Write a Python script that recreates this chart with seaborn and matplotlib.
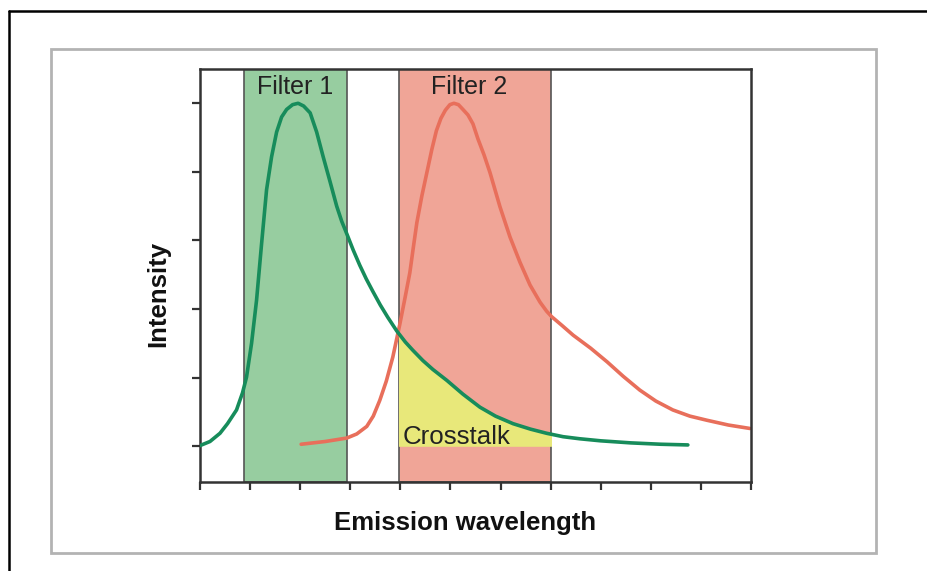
import seaborn as sns
import matplotlib.pyplot as plt
import matplotlib.patches as mpatches
from matplotlib.lines import Line2D
import pandas as pd

# Emission spectra (arbitrary units)
green_x = [0.0, 0.2, 0.4, 0.55, 0.73, 0.85, 0.93, 1.03, 1.13, 1.23, 1.33, 1.43,
           1.53, 1.63, 1.73, 1.85, 1.96, 2.07, 2.20, 2.33, 2.46, 2.60, 2.73, 2.83,
           2.93, 3.06, 3.19, 3.32, 3.45, 3.60, 3.75, 3.93, 4.10, 4.25, 4.45, 4.65,
           4.93, 5.25, 5.59, 5.90, 6.25, 6.60, 6.92, 7.25, 7.58, 8.0, 8.6, 9.2, 9.74]
green_y = [0.01, 0.07, 0.19, 0.33, 0.53, 0.78, 1.01, 1.50, 2.13, 2.95, 3.74, 4.22,
           4.58, 4.80, 4.91, 4.98, 5.0, 4.96, 4.86, 4.58, 4.22, 3.85, 3.50, 3.28,
           3.10, 2.86, 2.64, 2.44, 2.26, 2.06, 1.88, 1.68, 1.52, 1.40, 1.25, 1.12,
           0.96, 0.76, 0.57, 0.44, 0.33, 0.25, 0.19, 0.14, 0.11, 0.08, 0.05, 0.03, 0.02]

red_x = [2.02, 2.5, 2.93, 3.13, 3.33, 3.46, 3.59, 3.72, 3.85, 3.99, 4.09, 4.19,
         4.26, 4.33, 4.43, 4.53, 4.63, 4.72, 4.81, 4.90, 4.99, 5.07, 5.16, 5.25,
         5.35, 5.45, 5.55, 5.67, 5.79, 5.89, 5.99, 6.19, 6.39, 6.59, 6.79, 6.92,
         7.02, 7.23, 7.45, 7.8, 8.13, 8.45, 8.78, 9.1, 9.44, 9.78, 10.12, 10.55, 10.98]
red_y = [0.03, 0.07, 0.12, 0.18, 0.29, 0.44, 0.67, 0.95, 1.30, 1.78, 2.15, 2.53,
         2.90, 3.26, 3.65, 3.99, 4.33, 4.60, 4.78, 4.90, 4.98, 5.0, 4.98, 4.91,
         4.83, 4.70, 4.48, 4.25, 3.99, 3.74, 3.49, 3.05, 2.68, 2.35, 2.10, 1.97,
         1.89, 1.76, 1.62, 1.43, 1.23, 1.02, 0.82, 0.66, 0.53, 0.44, 0.38, 0.31, 0.26]

filter1 = (0.88, 2.94)
filter2 = (3.98, 7.0)
x_ticks = list(range(12))
y_ticks = list(range(6))

sns.set_style("ticks")
plt.rcParams['font.family'] = ['Liberation Sans', 'DejaVu Sans']

fig = plt.figure(figsize=(9.27, 5.71), dpi=100)
ax = fig.add_axes([0.2157, 0.1559, 0.5944, 0.7233])

green_df = pd.DataFrame({'x': green_x, 'y': green_y})
red_df = pd.DataFrame({'x': red_x, 'y': red_y})

# filter bands
ax.axvspan(*filter1, color='#97cda0', ec='#555555', lw=1.2, zorder=0)
ax.axvspan(*filter2, color='#f0a597', ec='#555555', lw=1.2, zorder=0)

# crosstalk = green emission falling inside filter 2
fill = ax.fill_between(green_x, green_y, 0, color='#e8e87a', lw=0, zorder=1)
clip = mpatches.Rectangle((filter2[0], -1), filter2[1] - filter2[0], 10,
                          transform=ax.transData)
fill.set_clip_path(clip)

sns.lineplot(data=green_df, x='x', y='y', color='#178c5b', lw=2.6, ax=ax, zorder=3)
sns.lineplot(data=red_df, x='x', y='y', color='#e86f5b', lw=2.6, ax=ax, zorder=2)

ax.text(1.89, 5.13, 'Filter 1', fontsize=18, color='#222222', ha='center', va='baseline')
ax.text(5.38, 5.13, 'Filter 2', fontsize=18, color='#222222', ha='center', va='baseline')
ax.text(4.05, 0.03, 'Crosstalk', fontsize=18.6, color='#222222', ha='left', va='baseline', zorder=4)

ax.set_xlim(0, 11)
ax.set_ylim(-0.52, 5.5)
ax.set_xticks(x_ticks)
ax.set_yticks(y_ticks)
ax.set_xticklabels([])
ax.set_yticklabels([])
ax.tick_params(direction='out', length=6, width=1.6, color='#333333')
for sp in ax.spines.values():
    sp.set_visible(True)
    sp.set_color('#333333')
    sp.set_linewidth(1.8)

ax.set_xlabel('Emission wavelength', fontsize=18.5, fontweight='bold', color='#111111')
ax.set_ylabel('Intensity', fontsize=18.5, fontweight='bold', color='#111111')
ax.xaxis.set_label_coords(0.481, -0.07)
ax.yaxis.set_label_coords(-0.054, 0.455)

# light grey panel frame and black outer frame
fig.patches.append(mpatches.Rectangle((0.055, 0.0315), 0.890, 0.8827, transform=fig.transFigure,
                                      fill=False, ec='#b3b3b3', lw=2.0))
fig.lines.append(Line2D([0.0097, 0.0097], [0, 0.9807], transform=fig.transFigure,
                        color='black', lw=1.8))
fig.lines.append(Line2D([0.0097, 1.0], [0.9807, 0.9807], transform=fig.transFigure,
                        color='black', lw=1.8))

fig.savefig('out.png', dpi=100)
